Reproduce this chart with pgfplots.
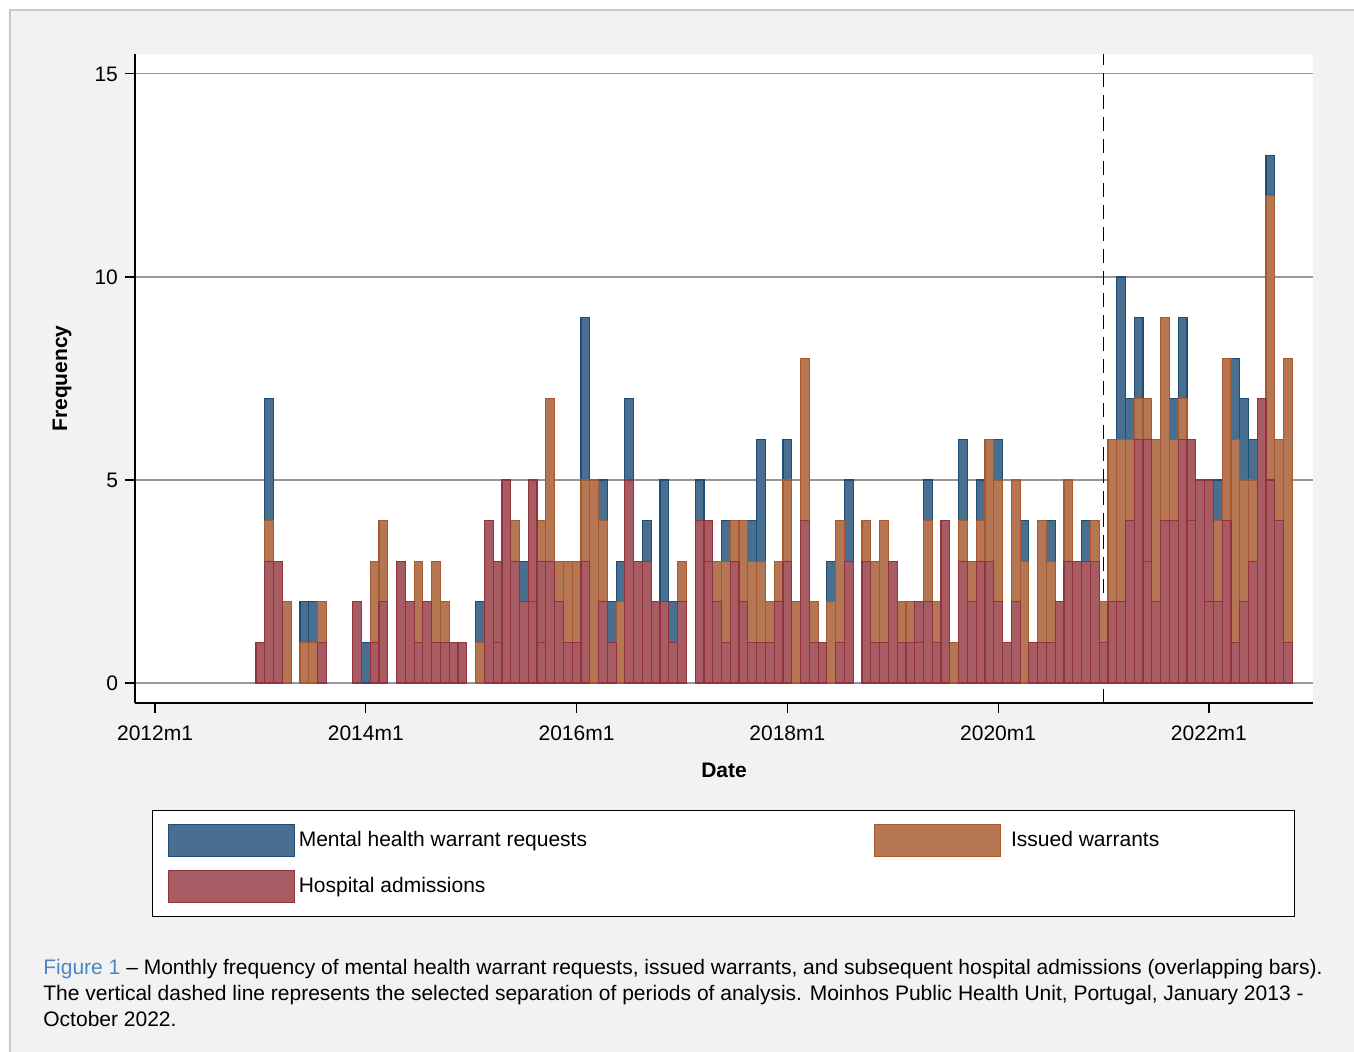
\documentclass[border=0pt]{standalone}
\usepackage{pgfplots}
\usepackage{pgfplotstable}
\pgfplotsset{compat=1.18}
\usepackage{fontspec}
\setmainfont{Liberation Sans}

\definecolor{reqfill}{RGB}{72,111,144}
\definecolor{reqdraw}{RGB}{30,76,115}
\definecolor{issfill}{RGB}{181,118,84}
\definecolor{issdraw}{RGB}{168,88,44}
\definecolor{hosfill}{RGB}{166,92,98}
\definecolor{hosdraw}{RGB}{148,50,60}
\definecolor{pagegray}{RGB}{242,242,242}
\definecolor{framegray}{RGB}{200,200,200}
\definecolor{gridgray}{RGB}{150,150,150}
\definecolor{linkblue}{RGB}{74,134,200}

% m = month index (0 = 2012m1); R = requests, I = issued, H = admissions,
% K = inner admissions line seen inside some red bars
\pgfplotstableread{
m R I H K
12 1 1 1 0
13 7 4 3 0
14 3 3 3 0
15 2 2 0 0
16 0 0 0 0
17 2 1 0 0
18 2 1 0 0
19 2 2 1 0
20 0 0 0 0
21 0 0 0 0
22 0 0 0 0
23 2 2 2 0
24 1 0 0 0
25 3 3 1 0
26 4 4 2 0
27 0 0 0 0
28 3 3 3 0
29 2 2 2 0
30 3 3 1 0
31 2 2 2 0
32 3 3 1 0
33 2 2 1 0
34 1 1 1 0
35 1 1 1 0
36 0 0 0 0
37 2 1 0 0
38 4 4 4 0
39 3 3 3 1
40 5 5 5 0
41 4 4 3 0
42 3 2 2 0
43 5 5 5 2
44 4 4 3 1
45 7 7 3 0
46 3 3 2 0
47 3 3 1 0
48 3 3 1 0
49 9 5 3 0
50 5 5 0 0
51 5 4 2 0
52 2 1 1 0
53 3 2 0 0
54 7 5 5 0
55 3 3 3 0
56 4 3 3 0
57 2 2 2 0
58 5 2 2 0
59 2 1 1 0
60 3 3 2 0
61 0 0 0 0
62 5 4 4 0
63 4 4 4 3
64 3 3 2 0
65 4 3 1 0
66 4 4 3 0
67 4 4 2 0
68 4 3 1 0
69 6 3 1 0
70 2 2 1 0
71 3 3 2 0
72 6 5 3 0
73 2 2 0 0
74 8 8 4 0
75 2 2 1 0
76 1 1 1 0
77 3 2 0 0
78 4 4 1 0
79 5 3 3 0
80 0 0 0 0
81 4 4 3 0
82 3 3 1 0
83 4 4 1 0
84 3 3 3 0
85 2 2 1 0
86 2 2 1 0
87 2 2 2 1
88 5 4 2 0
89 2 2 1 0
90 4 4 4 0
91 1 1 0 0
92 6 4 3 0
93 3 3 2 0
94 5 4 3 0
95 6 6 3 0
96 6 5 2 0
97 1 1 1 0
98 5 5 2 0
99 4 3 0 0
100 1 1 1 0
101 4 4 1 0
102 4 3 1 0
103 2 2 2 0
104 5 5 3 0
105 3 3 3 0
106 4 3 3 0
107 4 4 3 0
108 2 2 1 0
109 6 6 2 0
110 10 6 2 0
111 7 6 4 0
112 9 7 6 0
113 7 7 6 3
114 6 6 2 0
115 9 9 4 0
116 7 6 4 0
117 9 7 6 0
118 6 6 6 4
119 5 5 5 0
120 5 5 5 2
121 5 4 2 0
122 8 8 4 0
123 8 6 1 0
124 7 5 2 0
125 6 5 3 0
126 7 7 7 0
127 13 12 5 0
128 6 6 4 0
129 8 8 1 0
}\monthly

\pgfplotsset{
  mybar/.style={ybar, bar width=1, /pgf/bar shift=0pt, line width=0.6pt,
    restrict y to domain=0.5:20},
}

\newcommand{\lbl}{\fontsize{10.5}{12.6}\selectfont}

\begin{document}
% picture units: 1 unit = 1 reference pixel, y measured upward from the bottom
\begin{tikzpicture}[x=0.5pt, y=0.5pt]
\useasboundingbox (0,0) rectangle (1354,1052);
\fill[white] (0,0) rectangle (1354,1052);
\fill[pagegray] (10,0) rectangle (1354,1042);
\draw[framegray, line width=0.8pt] (10,0) -- (10,1042) -- (1354,1042);

\begin{axis}[
  at={(67.5pt,174.5pt)}, anchor=south west,
  scale only axis, width=589pt, height=324.5pt,
  xmin=-2.28, xmax=131.85, ymin=-0.49, ymax=15.49,
  axis x line*=bottom, axis y line*=left,
  axis line style={black, line width=0.6pt},
  axis background/.style={fill=white},
  xtick={0,24,48,72,96,120},
  xticklabels={2012m1,2014m1,2016m1,2018m1,2020m1,2022m1},
  ytick={0,5,10,15},
  ymajorgrids, grid style={gridgray, line width=0.6pt},
  tick align=outside, major tick length=5pt,
  tick style={black, line width=0.6pt},
  tick label style={font=\lbl},
  xticklabel style={yshift=-3pt},
  /pgf/number format/assume math mode=true,
  xlabel={Date}, ylabel={Frequency},
  label style={font=\lbl\bfseries},
  xlabel style={at={(axis description cs:0.5,-0.1032)}, anchor=center},
  ylabel style={at={(axis description cs:-0.062,0.5)}, anchor=center},
  legend columns=2,
  legend cell align=left,
  legend image code/.code={\draw[#1] (0pt,-8pt) rectangle (63pt,8pt);},
  legend style={at={(axis description cs:0.01443,-0.1649)}, anchor=north west,
    draw=black, line width=0.6pt, fill=white,
    inner xsep=7.5pt, inner ysep=6.6pt, row sep=6.6pt,
    nodes={inner sep=0pt, font=\lbl},
    /tikz/every odd column/.style={column sep=2pt},
    /tikz/every even column/.style={column sep=143.4pt}},
]
\addplot[black, line width=0.6pt, dash pattern=on 7pt off 4pt, forget plot]
  coordinates {(108,-0.49) (108,15.49)};
\addplot[mybar, fill=reqfill, draw=reqdraw] table[x=m, y=R] {\monthly};
\addlegendentry{Mental health warrant requests}
\addplot[mybar, fill=issfill, draw=issdraw] table[x=m, y=I] {\monthly};
\addlegendentry{\hspace*{3pt}Issued warrants\hspace*{60pt}}
\addplot[mybar, fill=hosfill, draw=hosdraw] table[x=m, y=H] {\monthly};
\addlegendentry{Hospital admissions}
\addplot[mybar, fill=hosfill, draw=hosdraw, forget plot] table[x=m, y=K] {\monthly};
\end{axis}

\node[anchor=base west, inner sep=0pt, font=\lbl] at (43,77)
  {\textcolor{linkblue}{Figure 1} – Monthly frequency of mental health warrant requests, issued warrants, and subsequent hospital admissions (overlapping bars).};
\node[anchor=base west, inner sep=0pt, font=\lbl] at (43,51)
  {The vertical dashed line represents the selected separation of periods of analysis. Moinhos Public Health Unit, Portugal, January 2013 -};
\node[anchor=base west, inner sep=0pt, font=\lbl] at (43,25)
  {October 2022.};
\end{tikzpicture}
\end{document}
